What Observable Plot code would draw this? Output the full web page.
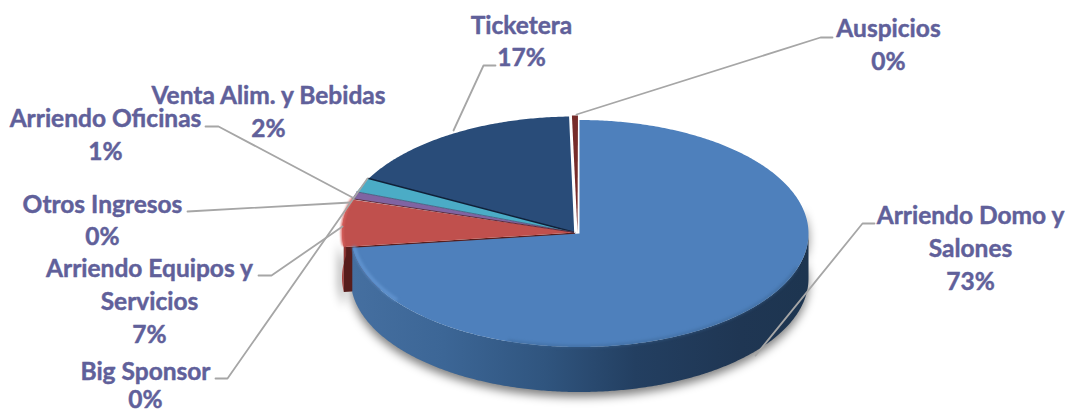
<!DOCTYPE html>
<html><head><meta charset="utf-8">
<style>html,body{margin:0;padding:0;background:#fff}svg{display:block}</style>
<script src="https://cdn.jsdelivr.net/npm/d3@7"></script>
<script src="https://cdn.jsdelivr.net/npm/@observablehq/plot@0.6"></script>
</head><body><div id="chart"></div>
<script>
// Data, clockwise from 12 o'clock
const categories = ["Arriendo Domo y\nSalones","Arriendo Equipos y\nServicios","Big Sponsor","Otros Ingresos","Arriendo Oficinas","Venta Alim. y Bebidas","Ticketera","Auspicios"];
const shares = [73.0, 6.6, 0.05, 0.05, 1.0, 2.0, 16.95, 0.35];

// Layout of the drawing
const sliceColors = ["#4f81bd","#c0504d","#9bbb59","#8064a2","#8064a2","#4bacc6","#294c79","#772c2a"];
const W = 1068, H = 411;
const main = {cx:579, cy:233, rx:229, ry:113.5};
const rest = {cx:574.5, cy:232, rx:233, ry:116};
const aus  = {cx:577, cy:232, rx:233, ry:117};
const depth = 45;
const labelPos = [[970,246],[149,299],[145,384.2],[102,218],[105,132.5],[268,109.5],[521,39],[888,42.5]];
const leaders = [
  [[874,223],[862,223],[755,355]],
  [[258,275],[271,275],[342,226]],
  [[215,378],[227,378],[367,178]],
  [[187,211],[350,202]],
  [[205,126],[218,126],[352,197]],
  [[495,65],[483,65],[453,130]],
  [[832,37],[820,37],[576,114]]
];

const total = d3.sum(shares);
let acc = 0;
const slices = shares.map((v,i)=>{const a0=acc/total*2*Math.PI; acc+=v; return {i,a0,a1:acc/total*2*Math.PI};});
const pt=(g,a,dy=0)=>({x:g.cx+g.rx*Math.sin(a),y:g.cy-g.ry*Math.cos(a)+dy});
function arc(g,a0,a1,dy=0){const n=Math.max(2,Math.ceil(Math.abs(a1-a0)/0.01));return d3.range(n+1).map(k=>pt(g,a0+(a1-a0)*k/n,dy));}
const sector=(g,a0,a1)=>[{x:g.cx,y:g.cy},...arc(g,a0,a1)];
const band=(g,a0,a1)=>[...arc(g,a0,a1),...arc(g,a1,a0,depth)];
const poly=(pts,opts)=>Plot.line(pts,{x:"x",y:"y",stroke:"none",...opts});

const sb=slices[0], sr=slices[1];
const defs=()=>{const d=d3.create("svg:defs");d.html(`
<linearGradient id="sideBlue" gradientUnits="userSpaceOnUse" x1="352" y1="0" x2="808" y2="0">
 <stop offset="0" stop-color="#456fa0"/><stop offset=".2" stop-color="#3c6696"/><stop offset=".42" stop-color="#30557f"/>
 <stop offset=".62" stop-color="#233f61"/><stop offset=".85" stop-color="#1f3653"/><stop offset="1" stop-color="#1d3550"/></linearGradient>
<linearGradient id="sideRed" gradientUnits="userSpaceOnUse" x1="341" y1="0" x2="353" y2="0">
 <stop offset="0" stop-color="#b04744"/><stop offset=".4" stop-color="#7e2f2d"/><stop offset="1" stop-color="#4f1b1a"/></linearGradient>`);return d.node();};

const marks=[defs];
// soft shadows
marks.push(poly(band({...main,cy:main.cy+5},Math.PI*0.42,sb.a1+0.03),{fill:"#000",fillOpacity:.5,imageFilter:"blur(5px)"}));
marks.push(poly(band({...rest,cx:rest.cx-4,cy:rest.cy+3},sb.a1-0.1,sr.a1-0.25),{fill:"#000",fillOpacity:.35,imageFilter:"blur(4px)"}));
// red cut face and outer wall
marks.push(poly([{x:rest.cx,y:rest.cy},pt(rest,sb.a1),pt(rest,sb.a1,depth),{x:rest.cx,y:rest.cy+depth}],{fill:"#571d1c"}));
marks.push(poly(band(rest,sb.a1,sr.a1-0.1),{fill:"url(#sideRed)"}));
// back slices
[6,5,4,1].forEach(i=>{const s=slices[i];
  marks.push(poly(sector(rest,s.a0,s.a1),{fill:sliceColors[i]}));});
// Auspicios sliver
marks.push(poly(sector(aus,slices[7].a0-0.002,slices[7].a1+0.002),{fill:sliceColors[7]}));
// seams
marks.push(poly([{x:rest.cx,y:rest.cy},pt(rest,slices[6].a0)],{stroke:"#0f2038",strokeWidth:1.4}));
marks.push(poly([{x:rest.cx,y:rest.cy},pt(rest,slices[5].a0)],{stroke:"#3b5a7a",strokeWidth:.8}));
marks.push(poly([{x:rest.cx,y:rest.cy},pt(rest,slices[4].a0)],{stroke:"#5e2a3a",strokeWidth:1}));
marks.push(poly(arc(rest,sr.a0+0.02,sr.a1),{stroke:"#d9625e",strokeWidth:2.5,imageFilter:"blur(1px)"}));
// white gaps around the sliver
marks.push(poly([{x:rest.cx,y:rest.cy},pt(rest,slices[6].a1)],{stroke:"#fff",strokeWidth:1.6}));
// main slice: wall then top face
marks.push(poly(band(main,Math.PI/2,sb.a1),{fill:"url(#sideBlue)"}));
marks.push(poly(sector(main,0,sb.a1),{fill:"#4e80bc",imageFilter:"blur(.7px)"}));
marks.push(poly(arc({...main,rx:main.rx-2,ry:main.ry-1.5},Math.PI*1.3,sb.a1),{stroke:"#6496d2",strokeWidth:3,imageFilter:"blur(1.5px)"}));
marks.push(poly(arc({...main,rx:main.rx-1,ry:main.ry-.5},Math.PI*0.6,Math.PI*1.1),{stroke:"#3a6493",strokeWidth:2.5,strokeOpacity:.6,imageFilter:"blur(1.5px)"}));
// leaders
leaders.forEach(l=>marks.push(Plot.line(l,{x:d=>d[0],y:d=>d[1],stroke:"#a6a6a6",strokeWidth:1.8,curve:"linear"})));
// labels
const fmt=d3.format(".0%");
const labels=categories.map((c,i)=>({text:c+"\n"+fmt(shares[i]/total),x:labelPos[i][0],y:labelPos[i][1],i}));
const textStyle={x:"x",y:"y",text:"text",fill:"#60609a",stroke:"#60609a",strokeWidth:.45,fontFamily:"Lato, Carlito, sans-serif",fontWeight:700,fontSize:24.5,textAnchor:"middle"};
marks.push(Plot.text(labels.filter(d=>d.i!==2),{...textStyle,lineHeight:1.335}));
marks.push(Plot.text(labels.filter(d=>d.i===2),{...textStyle,lineHeight:1.14}));

document.getElementById("chart").append(Plot.plot({
  width:W,height:H,margin:0,
  x:{domain:[0,W],range:[0,W],axis:null},
  y:{domain:[0,H],range:[0,H],axis:null},
  style:{background:"#fff"},
  marks
}));
</script></body></html>
